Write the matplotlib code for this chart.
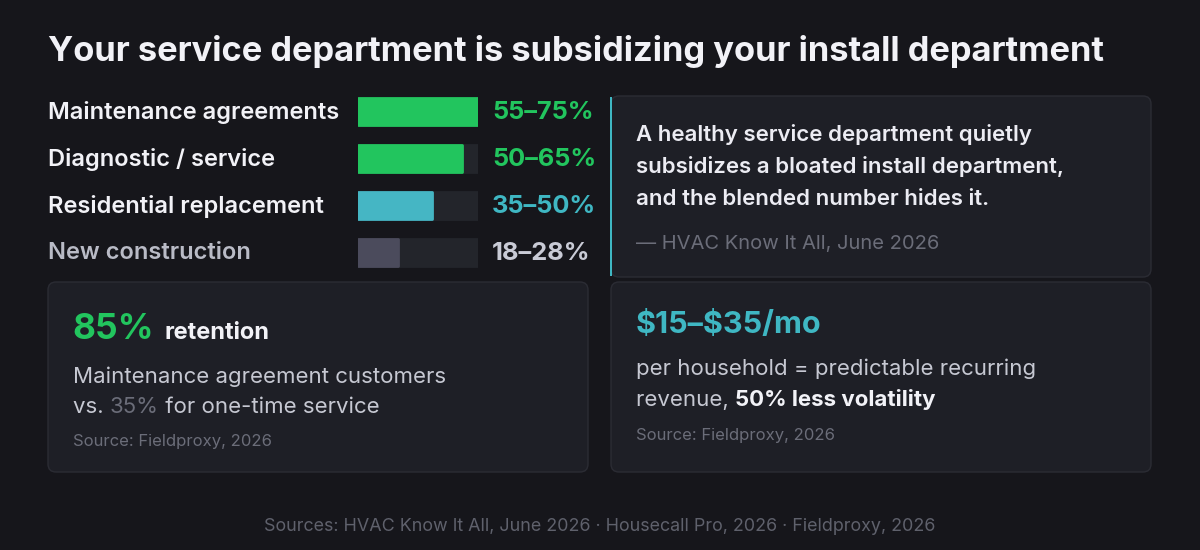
import matplotlib
matplotlib.use("Agg")
import matplotlib.pyplot as plt
from matplotlib.patches import FancyBboxPatch, Rectangle
import matplotlib.transforms as mtransforms

plt.rcParams["font.family"] = ["Inter", "DejaVu Sans"]

# data
title = "Your service department is subsidizing your install department"
categories = ["Maintenance agreements", "Diagnostic / service",
              "Residential replacement", "New construction"]
range_labels = ["55–75%", "50–65%", "35–50%", "18–28%"]
bar_fill = [75, 65, 46, 25]          # track max = 75
bar_colors = ["#22c55e", "#22c55e", "#45b6c4", "#4b4b5c"]
value_colors = ["#22c55e", "#22c55e", "#3fb7c3", "#c9cbd6"]
label_colors = ["#f2f2f7", "#f2f2f7", "#f2f2f7", "#b9bbc6"]

quote_lines = ["A healthy service department quietly",
               "subsidizes a bloated install department,",
               "and the blended number hides it."]
quote_source = "— HVAC Know It All, June 2026"

retention_big = "85%"
retention_word = "retention"
retention_line1 = "Maintenance agreement customers"
retention_other = "35%"
retention_src = "Source: Fieldproxy, 2026"

price_big = r"\$15–\$35/mo"
price_line1 = "per household = predictable recurring"
price_bold = "50% less volatility"
price_src = "Source: Fieldproxy, 2026"

footer = "Sources: HVAC Know It All, June 2026 · Housecall Pro, 2026 · Fieldproxy, 2026"

BG = "#16161b"
CARD = "#1e1f26"
EDGE = "#2b2c34"
MUTED = "#6b6d79"
BODY = "#c6c8d2"
WHITE = "#f2f2f7"
TEAL = "#3fb7c3"
GREEN = "#22c55e"

fig = plt.figure(figsize=(12, 5.5), dpi=100, facecolor=BG)
ax = fig.add_axes([0, 0, 1, 1])
ax.set_xlim(0, 1200)
ax.set_ylim(550, 0)
ax.axis("off")
renderer = fig.canvas.get_renderer()


def card(x, y, w, h):
    ax.add_patch(FancyBboxPatch((x, y), w, h, boxstyle="round,pad=0,rounding_size=8",
                                fc=CARD, ec=EDGE, lw=1))


def runs(x, y, parts, size):
    # place coloured pieces of text one after another on a line
    for s, color, weight in parts:
        t = ax.text(x, y, s, color=color, fontsize=size, fontweight=weight,
                    va="baseline", ha="left")
        x += t.get_window_extent(renderer).width


ax.text(48, 61, title, color=WHITE, fontsize=24.8, fontweight="bold", va="baseline")

# bar rows
bax = fig.add_axes([358 / 1200, 1 - 276 / 550, 120 / 1200, 188 / 550])
bax.set_xlim(0, 75)
bax.set_ylim(3.5, -0.5)
bax.axis("off")
rows = range(len(categories))
bax.barh(rows, [75] * 4, height=0.56, color="#23252b", edgecolor="#23252b",
         linewidth=2, joinstyle="round")
bax.barh(rows, bar_fill, height=0.56, color=bar_colors, edgecolor=bar_colors,
         linewidth=2, joinstyle="round")
tr = mtransforms.blended_transform_factory(bax.transAxes, bax.transData)
for i, cat in enumerate(categories):
    bax.text(-2.583, i + 0.02, cat, transform=tr, color=label_colors[i], fontsize=17,
             fontweight="semibold", va="center", ha="left")
    bax.text(1.117, i + 0.02, range_labels[i], transform=tr, color=value_colors[i],
             fontsize=18.3, fontweight="bold", va="center", ha="left")

# quote card
card(611, 96, 540, 181)
ax.add_patch(Rectangle((610, 97), 2.2, 179, color=TEAL, lw=0))
for k, line in enumerate(quote_lines):
    ax.text(636, 141 + 32 * k, line, color="#ececf3", fontsize=16,
            fontweight="semibold", va="baseline")
ax.text(636, 249, quote_source, color=MUTED, fontsize=14.5, va="baseline")

# retention card
card(48, 282, 540, 190)
runs(72, 339, [(retention_big, GREEN, "bold")], 25.5)
runs(164, 339, [(retention_word, WHITE, "bold")], 17)
ax.text(73, 383, retention_line1, color=BODY, fontsize=16, va="baseline")
runs(73, 413, [("vs. ", BODY, "normal"), (retention_other, MUTED, "normal"),
               (" for one-time service", BODY, "normal")], 16)
ax.text(73, 446, retention_src, color=MUTED, fontsize=12, va="baseline")

# price card
card(611, 282, 540, 190)
ax.text(636, 333, price_big, color=TEAL, fontsize=22, fontweight="bold", va="baseline")
ax.text(636, 375, price_line1, color=BODY, fontsize=16, va="baseline")
runs(636, 406, [("revenue, ", BODY, "normal"), (price_bold, WHITE, "bold")], 16)
ax.text(636, 440, price_src, color=MUTED, fontsize=12, va="baseline")

ax.text(600, 531, footer, color="#5f616c", fontsize=12.9, ha="center", va="baseline")

fig.savefig("out.png", dpi=100, facecolor=BG)
